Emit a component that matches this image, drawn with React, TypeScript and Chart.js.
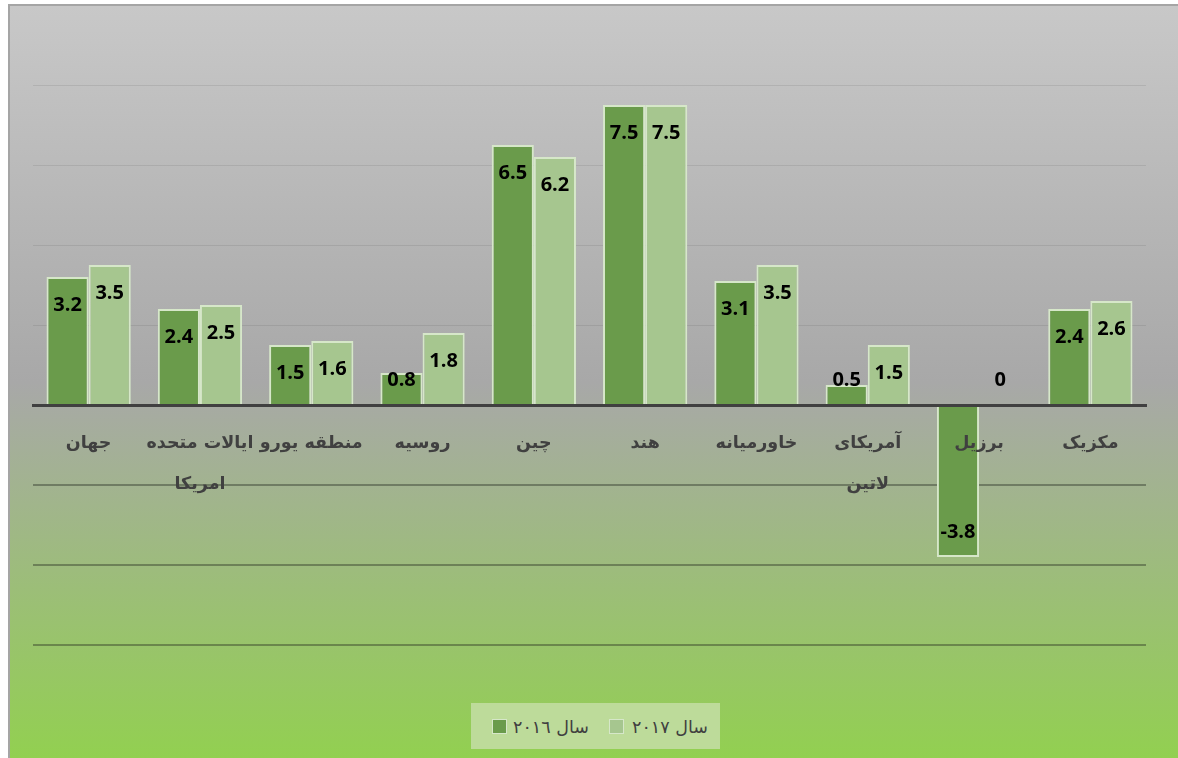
import React, { useEffect, useRef } from "react";
import { Chart, registerables } from "chart.js";

Chart.register(...registerables);

const categories: (string | string[])[] = [
  "جهان",
  ["ایالات متحده", "امریکا"],
  "منطقه یورو",
  "روسیه",
  "چین",
  "هند",
  "خاورمیانه",
  ["آمریکای", "لاتین"],
  "برزیل",
  "مکزیک",
];
const values2016 = [3.2, 2.4, 1.5, 0.8, 6.5, 7.5, 3.1, 0.5, -3.8, 2.4];
const values2017 = [3.5, 2.5, 1.6, 1.8, 6.2, 7.5, 3.5, 1.5, 0, 2.6];
const seriesNames = ["سال ٢٠١٦", "سال ٢٠١٧"];
const seriesColors = ["#6a9b4b", "#a6c68f"];
const yMin = -6;
const yMax = 10;
const yStep = 2;

const barLabelPlugin = {
  id: "barLabels",
  afterDatasetsDraw(chart: any) {
    const ctx = chart.ctx;
    const yScale = chart.scales.y;
    const zero = yScale.getPixelForValue(0);
    ctx.save();
    ctx.font = 'bold 20px "Open Sans", sans-serif';
    ctx.fillStyle = "#000000";
    ctx.textAlign = "center";
    ctx.textBaseline = "middle";
    chart.data.datasets.forEach((ds: any, di: number) => {
      const meta = chart.getDatasetMeta(di);
      meta.data.forEach((el: any, i: number) => {
        const v = ds.data[i];
        let ty: number;
        if (v >= 0) ty = Math.min(el.y + 28, zero - 25);
        else ty = Math.max(el.y - 25, zero + 25);
        ctx.fillText(String(v), el.x, ty);
      });
    });
    ctx.restore();
  },
};

export default function App() {
  const ref = useRef<HTMLCanvasElement>(null);
  useEffect(() => {
    document.documentElement.style.overflow = "hidden";
    document.body.style.overflow = "hidden";
    if (!ref.current) return;
    const chart = new Chart(ref.current, {
      type: "bar",
      data: {
        labels: categories as any,
        datasets: [
          {
            label: seriesNames[0],
            data: values2016,
            backgroundColor: seriesColors[0],
            borderColor: "#d6e7c9",
            borderWidth: 2,
          },
          {
            label: seriesNames[1],
            data: values2017,
            backgroundColor: seriesColors[1],
            borderColor: "#d6e7c9",
            borderWidth: 2,
          },
        ],
      },
      options: {
        animation: false,
        responsive: false,
        devicePixelRatio: 1,
        layout: { padding: { left: 33, right: 32, top: 5, bottom: 113 } },
        datasets: { bar: { categoryPercentage: 0.757, barPercentage: 1.0 } },
        plugins: {
          legend: { display: false },
          tooltip: { enabled: false },
        },
        scales: {
          x: {
            position: { y: 0 } as any,
            grid: { display: false, drawTicks: false },
            border: { display: true, color: "#404040", width: 3, z: 1 },
            ticks: {
              z: 2,
              autoSkip: false,
              maxRotation: 0,
              minRotation: 0,
              padding: 18,
              color: "#404040",
              font: { family: '"DejaVu Sans", sans-serif', size: 17.5, weight: "bold", lineHeight: "41px" },
            },
            afterFit: (s: any) => {
              s.height = 0;
            },
          },
          y: {
            min: yMin,
            max: yMax,
            ticks: { display: false, stepSize: yStep },
            border: { display: false },
            grid: {
              drawTicks: false,
              color: (c: any) =>
                c.tick.value < 0
                  ? "rgba(30,35,25,0.38)"
                  : c.tick.value === 0 || c.tick.value === yMax
                  ? "rgba(0,0,0,0)"
                  : "rgba(0,0,0,0.08)",
              lineWidth: (c: any) => (c.tick.value < 0 ? 2 : 1),
            },
            afterFit: (s: any) => {
              s.width = 0;
            },
          },
        },
      },
      plugins: [barLabelPlugin],
    });
    return () => chart.destroy();
  }, []);

  const sq = (color: string, left: number) => (
    <div
      style={{
        position: "fixed",
        left,
        top: 719,
        width: 13,
        height: 13,
        background: color,
        border: "1px solid #d6e7c9",
      }}
    />
  );
  const txt = (t: string, left: number) => (
    <div
      dir="rtl"
      style={{
        position: "fixed",
        left,
        top: 715,
        height: 24,
        lineHeight: "24px",
        fontFamily: '"DejaVu Sans", sans-serif',
        fontSize: 17.5,
        color: "#404040",
        whiteSpace: "nowrap",
      }}
    >
      {t}
    </div>
  );

  return (
    <div>
      <div
        style={{
          position: "fixed",
          left: 8,
          top: 4,
          width: 1200,
          height: 780,
          borderLeft: "2px solid #a5a5a5",
          borderTop: "2px solid #a5a5a5",
          background: "linear-gradient(to bottom, #c8c8c8 0px, #a8a8a8 376px, #92d050 754px)",
        }}
      />
      <canvas
        ref={ref}
        width={1178}
        height={758}
        style={{ position: "fixed", left: 0, top: 0, width: 1178, height: 758 }}
      />
      <div
        style={{
          position: "fixed",
          left: 471,
          top: 703,
          width: 249,
          height: 46,
          background: "#bddb9a",
        }}
      />
      {sq(seriesColors[0], 492)}
      {txt(seriesNames[0], 513)}
      {sq(seriesColors[1], 609)}
      {txt(seriesNames[1], 632)}
    </div>
  );
}
